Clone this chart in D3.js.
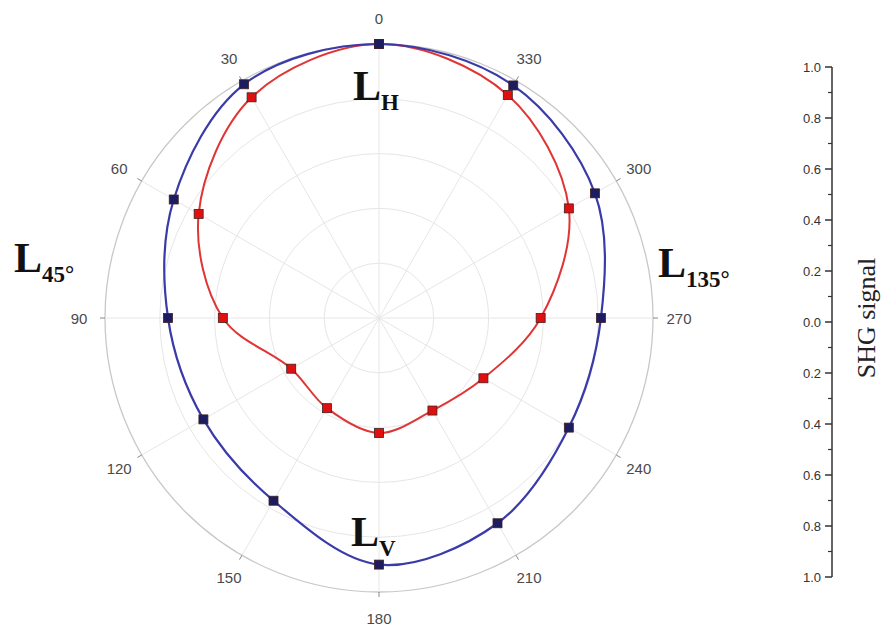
<!DOCTYPE html>
<html><head><meta charset="utf-8">
<script src="https://cdn.jsdelivr.net/npm/d3@7"></script>
<style>body{margin:0;background:#fff}</style>
</head><body>
<svg id="c" width="883" height="628"></svg>
<script>
const angles = [0,30,60,90,120,150,180,210,240,270,300,330];
const blueValues = [1.0,0.985,0.865,0.77,0.74,0.77,0.90,0.865,0.80,0.81,0.91,0.98];
const redValues  = [1.0,0.93,0.76,0.57,0.37,0.38,0.42,0.39,0.44,0.59,0.80,0.94];
const gridLevels = [0.2,0.4,0.6,0.8,1.0];
const axisTicks = [-1,-0.8,-0.6,-0.4,-0.2,0,0.2,0.4,0.6,0.8,1.0];

const svg = d3.select("#c");
const cx = 379, cy = 318, R = 274;
const r = d3.scaleLinear().domain([0,1]).range([0,R]);
const rad = a => -a*Math.PI/180; // counterclockwise from top
const px = (a,v) => Math.sin(rad(a))*v;
const py = (a,v) => -Math.cos(rad(a))*v;

const g = svg.append("g").attr("transform",`translate(${cx},${cy})`);

// grid circles
g.selectAll("circle.grid").data(gridLevels).join("circle")
  .attr("r",d=>r(d)).attr("fill","none")
  .attr("stroke",d=>d===1?"#c8c8c8":"#e6e6e6").attr("stroke-width",d=>d===1?1.3:1);
// spokes
g.selectAll("line.spoke").data(angles).join("line")
  .attr("x1",0).attr("y1",0)
  .attr("x2",d=>px(d,R)).attr("y2",d=>py(d,R))
  .attr("stroke","#e6e6e6").attr("stroke-width",1);
// outer ticks
g.selectAll("line.otick").data(angles).join("line")
  .attr("x1",d=>px(d,R)).attr("y1",d=>py(d,R))
  .attr("x2",d=>px(d,R+5)).attr("y2",d=>py(d,R+5))
  .attr("stroke","#888").attr("stroke-width",1);
// angle labels
g.selectAll("text.alab").data(angles).join("text")
  .attr("x",d=>px(d,R+26)).attr("y",d=>py(d,R+26))
  .attr("text-anchor","middle").attr("dominant-baseline","central")
  .attr("font-family","Liberation Sans, Arial, sans-serif").attr("font-size",15)
  .attr("fill","#4a4a4a").text(d=>d);

const line = d3.lineRadial().curve(d3.curveCatmullRomClosed.alpha(0.5))
  .angle(d=>rad(d[0])).radius(d=>r(d[1]));

function series(vals, stroke, fill, w){
  const pts = angles.map((a,i)=>[a,vals[i]]);
  g.append("path").datum(pts).attr("d",line).attr("fill","none")
    .attr("stroke",stroke).attr("stroke-width",w);
  g.selectAll(null).data(pts).join("rect")
    .attr("x",d=>px(d[0],r(d[1]))-4.5).attr("y",d=>py(d[0],r(d[1]))-4.5)
    .attr("width",9).attr("height",9).attr("fill",fill)
    .attr("stroke","#402020").attr("stroke-width",0.8);
}
series(redValues,"#e03535","#e01010",2);
series(blueValues,"#3a3aa8","#1c1c60",2.2);

// big labels
function bigLabel(x,y,main,sub,anchor){
  const t = svg.append("text").attr("x",x).attr("y",y)
    .attr("font-family","Liberation Serif, Times New Roman, serif").attr("font-weight","bold")
    .attr("font-size",42).attr("fill","#111").attr("text-anchor",anchor||"start");
  t.append("tspan").text(main);
  t.append("tspan").attr("dy",10).attr("font-size",23).text(sub);
}
bigLabel(353,100,"L","H");
bigLabel(351,546,"L","V");
bigLabel(14,272,"L","45°");
bigLabel(658,277,"L","135°");

// right axis
const ay = d3.scaleLinear().domain([-1,1]).range([577,67]);
const ax = 832;
const ag = svg.append("g");
ag.append("line").attr("x1",ax).attr("x2",ax).attr("y1",ay(-1)).attr("y2",ay(1))
  .attr("stroke","#333").attr("stroke-width",1.5);
const minor = d3.range(-0.9,1.0,0.2);
ag.selectAll("line.maj").data(axisTicks).join("line")
  .attr("x1",ax-7).attr("x2",ax).attr("y1",d=>ay(d)).attr("y2",d=>ay(d))
  .attr("stroke","#333").attr("stroke-width",1.5);
ag.selectAll("line.min").data(minor).join("line")
  .attr("x1",ax-4).attr("x2",ax).attr("y1",d=>ay(d)).attr("y2",d=>ay(d))
  .attr("stroke","#333").attr("stroke-width",1.2);
ag.selectAll("text").data(axisTicks).join("text")
  .attr("x",ax-11).attr("y",d=>ay(d)).attr("text-anchor","end").attr("dominant-baseline","central")
  .attr("font-family","Liberation Sans, Arial, sans-serif").attr("font-size",13).attr("fill","#333")
  .text(d=>Math.abs(d).toFixed(1));
svg.append("text").attr("transform",`translate(866,318) rotate(-90)`)
  .attr("text-anchor","middle").attr("dominant-baseline","central")
  .attr("font-family","Liberation Serif, Times New Roman, serif").attr("font-size",26).attr("fill","#222")
  .text("SHG signal");
</script>
</body></html>
